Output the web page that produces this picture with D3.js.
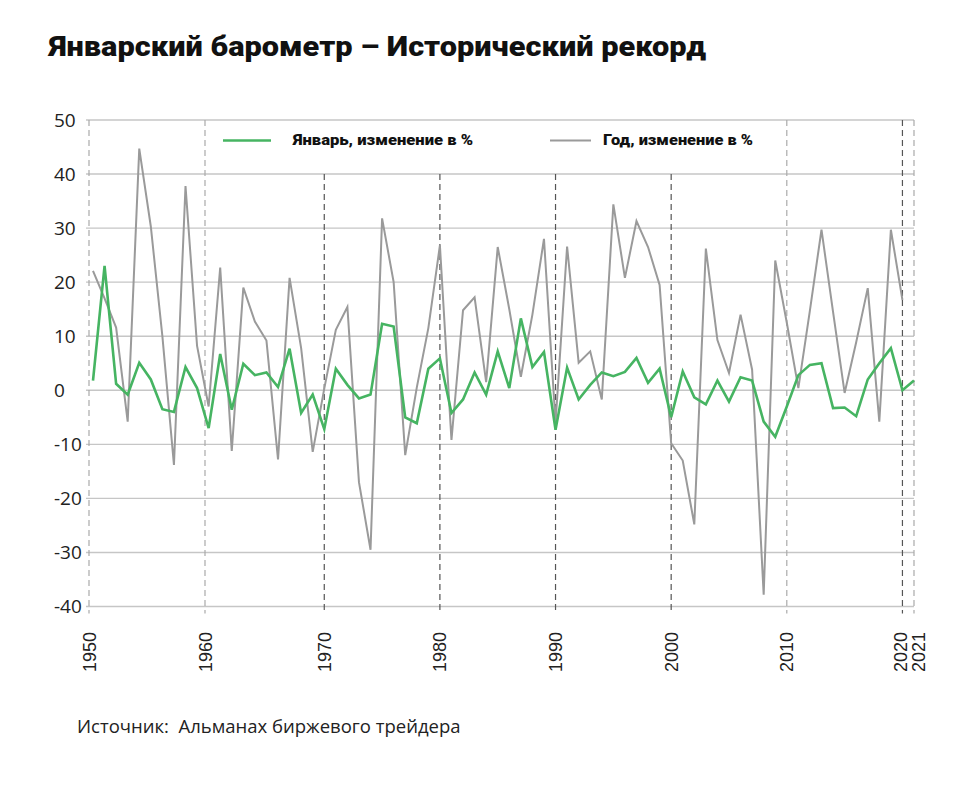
<!DOCTYPE html>
<html lang="ru">
<head>
<meta charset="utf-8">
<title>Январский барометр</title>
<script src="https://cdn.jsdelivr.net/npm/d3@7"></script>
<style>
  body { margin: 0; background: #fff; }
  .title { font-family: Roboto, "Noto Sans", sans-serif; font-weight: 900; font-size: 28px; fill: #111; }
  .legend text { font-family: Roboto, "Noto Sans", sans-serif; font-weight: 900; font-size: 15.5px; fill: #111; }
  .yAxis text { font-family: "Open Sans", sans-serif; font-size: 19px; fill: #222; }
  .xAxis text { font-family: "Liberation Sans", Arial, sans-serif; font-size: 18px; fill: #222; }
  .source { font-family: "Open Sans", sans-serif; font-size: 18.5px; fill: #222; white-space: pre; }
</style>
</head>
<body>
<div class="chart"></div>
<script>
var w = 974, h = 788;

var years = d3.range(1950, 2022);

// январь, изменение в %
var januaryChange = [
  1.8, 23, 1.2, -0.8, 5.1, 2.0, -3.5, -4.0, 4.3, 0.4,
  -7.0, 6.7, -3.6, 4.9, 2.8, 3.3, 0.6, 7.7, -4.2, -0.8,
  -7.2, 4.0, 1.0, -1.5, -0.8, 12.3, 11.8, -5.0, -6.1, 4.0,
  5.9, -4.2, -1.7, 3.3, -0.8, 7.2, 0.4, 13.3, 4.3, 7.1,
  -7.3, 4.2, -1.7, 1.0, 3.3, 2.6, 3.4, 6.0, 1.4, 4.0,
  -5.0, 3.5, -1.3, -2.6, 1.8, -2.1, 2.4, 1.8, -5.8, -8.6,
  -3.0, 2.8, 4.7, 5.0, -3.3, -3.2, -4.8, 2.0, 5.0, 7.8,
  0, 1.8
];

// год, изменение в % (1950-2020)
var yearChange = [
  22.1, 17, 11.6, -5.8, 44.7, 30.3, 10, -13.8, 37.8, 8.2,
  -3, 22.7, -11.2, 19.0, 12.7, 9.2, -12.8, 20.8, 7.8, -11.4,
  0.3, 11.2, 15.4, -17, -29.5, 31.8, 20, -12, 0.5, 11.5,
  26.8, -9.2, 14.8, 17.2, 1.5, 26.5, 15, 2.5, 14, 28,
  -6, 26.6, 5.1, 7.2, -1.7, 34.4, 20.8, 31.3, 26.5, 19.5,
  -9.8, -13, -24.8, 26.2, 9.3, 3.2, 14, 3.8, -37.8, 24,
  12.5, 0.4, 14.8, 29.7, 14.5, -0.5, 8.9, 18.9, -5.8, 29.7,
  16.7
];

var yTicks = [50, 40, 30, 20, 10, 0, -10, -20, -30, -40];
var xTicks = [1950, 1960, 1970, 1980, 1990, 2000, 2010, 2020, 2021];
// тёмные пунктиры
var darkYears = [1970, 1980, 1990, 2000, 2020];
// пунктиры, которые начинаются ниже легенды
var shortYears = [1970, 1980, 1990, 2000];

var titleText = "Январский барометр – Исторический рекорд";
var legendLabels = ["Январь, изменение в %", "Год, изменение в %"];
var sourceText = "Источник:  Альманах биржевого трейдера";

var green = "#46b462";
var grey = "#9a9a9a";

var xScale = d3.scaleLinear().domain([1950, 2021]).range([93, 914]);
var yScale = d3.scaleLinear().domain([-40, 50]).range([606.5, 120]);

var svg = d3.select("div.chart")
  .append("svg")
  .attr("width", w)
  .attr("height", h);

// горизонтальная сетка
var yAxis = svg.append("g").attr("class", "yAxis");
yAxis.selectAll("line")
  .data(yTicks)
  .enter()
  .append("line")
  .attr("x1", 86)
  .attr("x2", xScale(2021))
  .attr("y1", d => yScale(d))
  .attr("y2", d => yScale(d))
  .attr("stroke", "#c6c6c6")
  .attr("stroke-width", 1.4);

yAxis.selectAll("text")
  .data(yTicks)
  .enter()
  .append("text")
  .attr("x", 54)
  .attr("y", d => yScale(d))
  .attr("dy", "0.36em")
  .text(d => d);

// вертикальные пунктиры
var xAxis = svg.append("g").attr("class", "xAxis");
var gridX = d => (d === 1950 ? 89 : d === 1960 ? 205 : xScale(d));
xAxis.selectAll("line")
  .data(xTicks)
  .enter()
  .append("line")
  .attr("x1", gridX)
  .attr("x2", gridX)
  .attr("y1", d => shortYears.indexOf(d) >= 0 ? yScale(40) : yScale(50))
  .attr("y2", yScale(-40) + 7)
  .attr("stroke", d => darkYears.indexOf(d) >= 0 ? "#555" : "#aaa")
  .attr("stroke-width", 1.2)
  .attr("stroke-dasharray", "6,4");

xAxis.selectAll("text")
  .data(xTicks)
  .enter()
  .append("text")
  .attr("text-anchor", "end")
  .attr("transform", d => {
    var nudge = d === 2020 ? -2 : d === 2021 ? 4 : 0;
    return "translate(" + (gridX(d) + nudge + 6.5) + ",632) rotate(-90)";
  })
  .text(d => d);

// линии
var line = d3.line()
  .x((d, i) => xScale(years[i]))
  .y(d => yScale(d));

svg.append("path")
  .datum(yearChange)
  .attr("fill", "none")
  .attr("stroke", grey)
  .attr("stroke-width", 2)
  .attr("d", line);

svg.append("path")
  .datum(januaryChange)
  .attr("fill", "none")
  .attr("stroke", green)
  .attr("stroke-width", 2.6)
  .attr("d", line);

// легенда
var legend = svg.append("g").attr("class", "legend");
var legendItems = [
  { label: legendLabels[0], color: green, x1: 223, x2: 271, tx: 293, len: 180, width: 2.6 },
  { label: legendLabels[1], color: grey, x1: 550, x2: 591, tx: 603, len: 150, width: 2 }
];
legend.selectAll("line")
  .data(legendItems)
  .enter()
  .append("line")
  .attr("x1", d => d.x1)
  .attr("x2", d => d.x2)
  .attr("y1", 140.5)
  .attr("y2", 140.5)
  .attr("stroke", d => d.color)
  .attr("stroke-width", d => d.width);

legend.selectAll("text")
  .data(legendItems)
  .enter()
  .append("text")
  .attr("x", d => d.tx)
  .attr("y", 145)
  .attr("textLength", d => d.len)
  .attr("lengthAdjust", "spacingAndGlyphs")
  .text(d => d.label);

// заголовок и источник
svg.append("text")
  .attr("class", "title")
  .attr("x", 49)
  .attr("y", 56)
  .attr("textLength", 657)
  .attr("lengthAdjust", "spacingAndGlyphs")
  .text(titleText);

svg.append("text")
  .attr("class", "source")
  .attr("x", 77)
  .attr("y", 733)
  .text(sourceText);
</script>
</body>
</html>
